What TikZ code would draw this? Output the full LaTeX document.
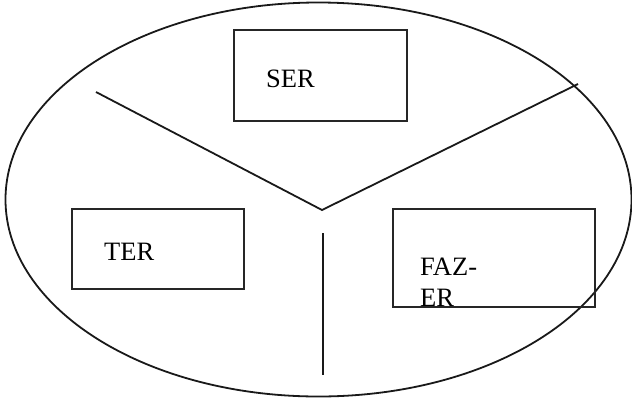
\documentclass[tikz,border=0pt]{standalone}
\usepackage{fontspec}
\setmainfont{Liberation Serif}
\usetikzlibrary{shapes.geometric}
\begin{document}
\begin{tikzpicture}[x=1pt,y=-1pt,
  ln/.style={line width=1.8pt, draw=black!90},
  bx/.style={draw=black!85, line width=1.8pt, fill=none},
  lbl/.style={anchor=base west, inner sep=0pt, font=\fontsize{26.5}{30}\selectfont, text=black}]
\useasboundingbox (0,0) rectangle (632,400);
\node[ellipse, ln, minimum width=626pt, minimum height=394pt, inner sep=0pt] (ell) at (318.5,199.5) {};
\node[bx, minimum width=173pt, minimum height=91pt, inner sep=0pt] (ser) at (320.5,75.5) {};
\node[bx, minimum width=172pt, minimum height=80pt, inner sep=0pt] (ter) at (158,249) {};
\node[bx, minimum width=202pt, minimum height=98pt, inner sep=0pt] (faz) at (494,258) {};
\node[lbl] (tser) at (266,87) {SER};
\node[lbl] (tter) at (104,260) {TER};
\node[lbl] (tfaz1) at (420,275) {FAZ-};
\node[lbl] (tfaz2) at (420,306) {ER};
\coordinate (vl) at (96,92);
\coordinate (vm) at (322,210);
\coordinate (vr) at (578,84);
\coordinate (st) at (323,233);
\coordinate (sb) at (323,375);
\draw[ln] (vl) -- (vm) -- (vr);
\draw[ln] (st) -- (sb);
\end{tikzpicture}
\end{document}
